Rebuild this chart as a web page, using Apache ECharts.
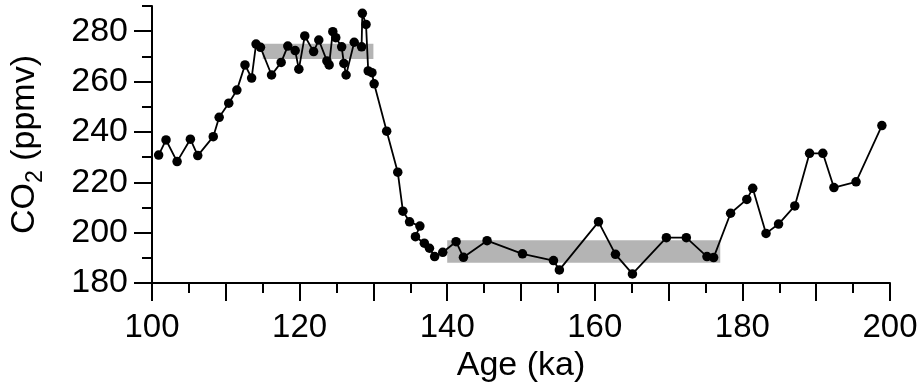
<!DOCTYPE html>
<html>
<head>
<meta charset="utf-8">
<script src="https://cdn.jsdelivr.net/npm/echarts@6/dist/echarts.min.js"></script>
<style>
html,body{margin:0;padding:0;background:#fff;}
#chart{width:924px;height:389px;}
</style>
</head>
<body>
<div id="chart"></div>
<script>
const ages = [100.9,101.9,103.4,105.2,106.2,108.3,109.1,110.4,111.5,112.6,113.5,114.1,114.7,116.2,117.5,118.4,119.4,119.9,120.7,121.9,122.6,123.7,124.0,124.5,124.9,125.7,126.0,126.3,127.4,128.4,128.5,129.0,129.3,129.8,130.1,131.8,133.3,134.0,134.9,136.3,135.7,136.9,137.6,138.3,139.4,141.2,142.2,145.4,150.2,154.4,155.2,160.5,162.8,165.1,169.7,172.4,175.2,176.1,178.4,180.6,181.4,183.2,184.9,187.1,189.1,190.9,192.4,195.4,198.9];
const co2 = [230.8,236.8,228.2,237.1,230.6,238.1,245.8,251.4,256.6,266.6,261.4,274.9,273.6,262.6,267.6,274.1,272.3,264.9,278.1,271.9,276.5,268.2,266.6,279.8,277.4,273.8,267.2,262.6,275.6,273.8,287.1,282.7,264.2,263.5,259.1,240.3,224.0,208.5,204.3,202.6,198.4,195.8,193.8,190.5,192.2,196.4,190.2,196.8,191.6,188.9,185.2,204.3,191.4,183.6,198.0,198.0,190.5,190.1,207.7,213.2,217.6,199.7,203.4,210.6,231.5,231.5,217.9,220.2,242.5];
const bandAges = [[115,130],[140,177]];
const bandCo2 = [[269,275],[188,197]];
const xMajorTicks = [100,110,120,130,140,150,160,170,180,190,200];
const xLabels = [100,120,140,160,180,200];
const xMinorTicks = [105,115,125,135,145,155,165,175,185,195];
const yMajorTicks = [180,200,220,240,260,280];
const yMinorTicks = [190,210,230,250,270,290];

const FONT = 'Liberation Sans, Arial, sans-serif';
const chart = echarts.init(document.getElementById('chart'), null, {renderer:'canvas'});
const pts = ages.map((a,i)=>[a,co2[i]]);
const areas = bandAges.map((b,i)=>[{coord:[b[0],bandCo2[i][0]]},{coord:[b[1],bandCo2[i][1]]}]);

chart.setOption({
  animation:false,
  backgroundColor:'#fff',
  grid:{left:152,right:34,top:6,bottom:106,containLabel:false,outerBoundsMode:'none'},
  xAxis:[{
    type:'value',min:100,max:200,position:'bottom',
    axisLine:{show:true,onZero:false,lineStyle:{color:'#000',width:2}},
    axisTick:{show:true,customValues:xMajorTicks,length:18,lineStyle:{color:'#000',width:2}},
    axisLabel:{customValues:xLabels,color:'#000',fontSize:33,fontFamily:FONT,margin:28},
    splitLine:{show:false},
    name:'Age (ka)',nameLocation:'middle',nameGap:65,
    nameTextStyle:{color:'#000',fontSize:34,fontFamily:FONT}
  },{
    type:'value',min:100,max:200,position:'bottom',
    axisLine:{show:false,onZero:false},
    axisTick:{show:true,customValues:xMinorTicks,length:10,lineStyle:{color:'#000',width:2}},
    axisLabel:{show:false},splitLine:{show:false}
  }],
  yAxis:[{
    type:'value',min:180,max:290,position:'left',
    axisLine:{show:true,onZero:false,lineStyle:{color:'#000',width:2}},
    axisTick:{show:true,customValues:yMajorTicks,length:18,lineStyle:{color:'#000',width:2}},
    axisLabel:{customValues:yMajorTicks,color:'#000',fontSize:34,fontFamily:FONT,margin:24},
    splitLine:{show:false},
    name:'{a|CO}{b|2}{a| (ppmv)}',nameLocation:'middle',nameGap:106,nameRotate:90,
    nameTextStyle:{
      color:'#000',fontFamily:FONT,
      rich:{
        a:{fontSize:34,fontFamily:FONT,color:'#000',lineHeight:42},
        b:{fontSize:23,fontFamily:FONT,color:'#000',lineHeight:22,verticalAlign:'top',padding:[20,0,0,0]}
      }
    }
  },{
    type:'value',min:180,max:290,position:'left',
    axisLine:{show:false,onZero:false},
    axisTick:{show:true,customValues:yMinorTicks,length:10,lineStyle:{color:'#000',width:2}},
    axisLabel:{show:false},splitLine:{show:false}
  }],
  series:[{
    type:'line',data:[],xAxisIndex:0,yAxisIndex:0,z:1,silent:true,
    markArea:{silent:true,itemStyle:{color:'#b4b4b4',opacity:1},data:areas}
  },{
    type:'line',data:pts,xAxisIndex:0,yAxisIndex:0,z:3,
    symbol:'circle',symbolSize:9.5,showAllSymbol:true,
    lineStyle:{color:'#000',width:1.8},
    itemStyle:{color:'#000',borderWidth:0}
  }]
});
</script>
</body>
</html>
